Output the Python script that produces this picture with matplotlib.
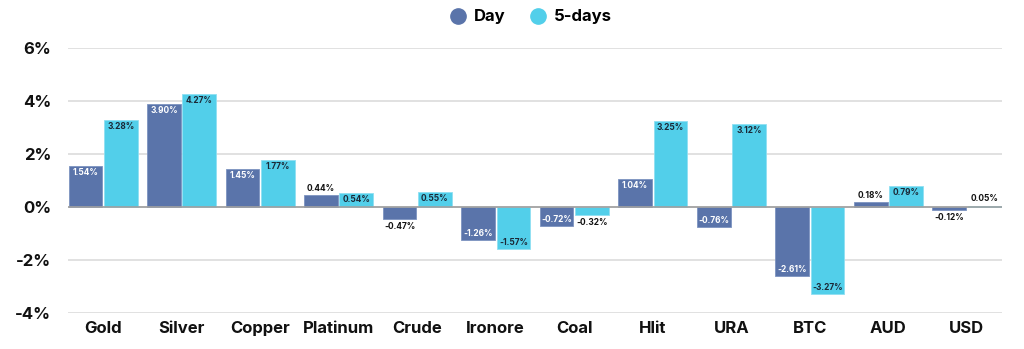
import matplotlib
matplotlib.use("Agg")
import matplotlib.pyplot as plt
import numpy as np
from matplotlib.lines import Line2D

categories = ["Gold", "Silver", "Copper", "Platinum", "Crude", "Ironore",
              "Coal", "Hlit", "URA", "BTC", "AUD", "USD"]
day = [1.54, 3.90, 1.45, 0.44, -0.47, -1.26, -0.72, 1.04, -0.76, -2.61, 0.18, -0.12]
five_days = [3.28, 4.27, 1.77, 0.54, 0.55, -1.57, -0.32, 3.25, 3.12, -3.27, 0.79, 0.05]
yticks = [-4, -2, 0, 2, 4, 6]

DAY_C = "#5a74aa"
FIVE_C = "#52cfea"
TXT = "#111111"

plt.rcParams['font.family'] = ['Inter', 'DejaVu Sans']

fig = plt.figure(figsize=(10.24, 3.49), dpi=100)
ax = fig.add_axes([68/1024, 1-313/349, (1002-68)/1024, (313-48)/349])

x = np.arange(len(categories))
w = 0.43
off = 0.225
b1 = ax.bar(x - off, day, w, color=DAY_C, edgecolor="#7d93c0", linewidth=0.6, zorder=3)
b2 = ax.bar(x + off, five_days, w, color=FIVE_C, edgecolor="#8fe0f2", linewidth=0.6, zorder=3)

ax.set_xlim(-0.447, len(categories) - 1 + 0.447)
ax.set_ylim(-4, 6)
ax.set_yticks(yticks)
ax.set_yticklabels([f"{t}%" for t in yticks], fontsize=12, fontweight="bold", color=TXT)
ax.set_xticks(x)
ax.set_xticklabels(categories, fontsize=12, fontweight="bold", color=TXT)
ax.tick_params(axis="both", length=0)
ax.tick_params(axis="y", pad=12)
ax.tick_params(axis="x", pad=6)
for s in ax.spines.values():
    s.set_visible(False)
ax.grid(axis="y", color="#dcdcdc", linewidth=1.2, zorder=0)
ax.set_axisbelow(True)
ax.axhline(0, color="#a0a0a0", linewidth=1.2, zorder=4)

def label(bars, vals, inside_color):
    for bar, v in zip(bars, vals):
        cx = bar.get_x() + bar.get_width() / 2
        txt = f"{v:.2f}%"
        if abs(v) >= 0.5:
            dy = -6.5 if v > 0 else 6.5
            col = inside_color
        else:
            dy = 7 if v >= 0 else -7
            col = TXT
        ax.annotate(txt, (cx, v), xytext=(0, dy), textcoords="offset pixels",
                    ha="center", va="center", fontsize=6, fontweight="bold", color=col, zorder=5)

label(b1, day, "white")
label(b2, five_days, "#1b2836")

handles = [Line2D([], [], marker="o", linestyle="", markersize=11, color=DAY_C),
           Line2D([], [], marker="o", linestyle="", markersize=11, color=FIVE_C)]
fig.legend(handles, ["Day", "5-days"], loc="center", bbox_to_anchor=(530/1024, 1 - 17/349),
           ncol=2, frameon=False, prop={"weight": "bold", "size": 12},
           handletextpad=0.36, columnspacing=1.3, handlelength=1.2)

fig.savefig("out.png", dpi=100, facecolor="white")
